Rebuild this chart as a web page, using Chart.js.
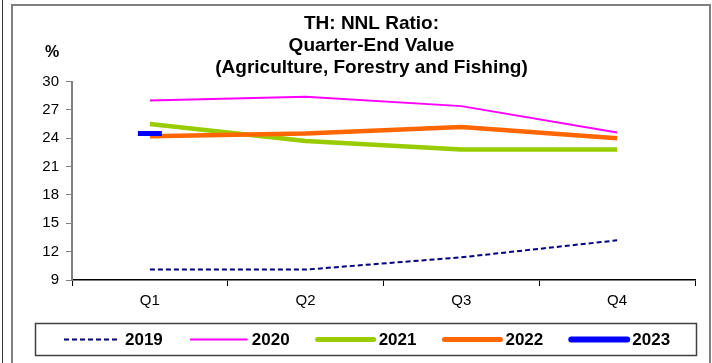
<!DOCTYPE html>
<html>
<head>
<meta charset="utf-8">
<script src="https://cdn.jsdelivr.net/npm/chart.js@4.4.0/dist/chart.umd.min.js"></script>
<style>
  html, body { margin: 0; padding: 0; background: #fff; }
</style>
</head>
<body>
<canvas id="chart" width="712" height="363"></canvas>
<script>
const quarters = ["Q1", "Q2", "Q3", "Q4"];
const values2019 = [10.1, 10.1, 11.4, 13.2];
const values2020 = [28.0, 28.4, 27.4, 24.6];
const values2021 = [25.5, 23.7, 22.8, 22.8];
const values2022 = [24.2, 24.5, 25.2, 24.0];
const values2023 = [24.5, null, null, null];
const yTicks = [9, 12, 15, 18, 21, 24, 27, 30];
const titleLines = ["TH: NNL Ratio:", "Quarter-End Value", "(Agriculture, Forestry and Fishing)"];

Chart.defaults.font.family = "'Liberation Sans', Arial, sans-serif";
Chart.defaults.color = "#000";

// frame, unit label and the boxed legend at the bottom
const decorPlugin = {
    id: "decor",
    beforeDraw(chart) {
        const ctx = chart.ctx;
        ctx.save();
        ctx.fillStyle = "#fff";
        ctx.fillRect(0, 0, chart.width, chart.height);
        ctx.strokeStyle = "#333";
        ctx.lineWidth = 1;
        ctx.beginPath();
        ctx.moveTo(2.5, 0);
        ctx.lineTo(2.5, chart.height);
        ctx.stroke();
        ctx.strokeStyle = "#808080";
        ctx.lineWidth = 2;
        ctx.strokeRect(12, 5, 698, chart.height + 10);
        ctx.restore();
    },
    afterDraw(chart) {
        const ctx = chart.ctx;
        ctx.save();
        ctx.fillStyle = "#000";
        ctx.font = "bold 16px 'Liberation Sans', Arial, sans-serif";
        ctx.textAlign = "center";
        ctx.textBaseline = "middle";
        ctx.fillText("%", 52, 53);

        // legend box
        ctx.strokeStyle = "#404040";
        ctx.lineWidth = 1.5;
        ctx.strokeRect(35.5, 323.5, 661, 32);

        // legend items
        const y = 339.5;
        let x = 64;
        ctx.textAlign = "left";
        ctx.font = "bold 17px 'Liberation Sans', Arial, sans-serif";
        chart.data.datasets.forEach((ds) => {
            ctx.beginPath();
            ctx.strokeStyle = ds.borderColor;
            ctx.lineWidth = ds.legendWidth;
            ctx.lineCap = ds.borderDash ? "butt" : "round";
            ctx.setLineDash(ds.borderDash || []);
            ctx.moveTo(x, y);
            ctx.lineTo(x + 56, y);
            ctx.stroke();
            ctx.setLineDash([]);
            ctx.fillStyle = "#000";
            ctx.fillText(ds.label, x + 61, y + 1);
            x += 61 + ctx.measureText(ds.label).width + 28;
        });
        ctx.restore();
    }
};

new Chart(document.getElementById("chart"), {
    type: "line",
    data: {
        labels: quarters,
        datasets: [
            { label: "2019", data: values2019, borderColor: "#000080", borderWidth: 2, borderDash: [5, 3], legendWidth: 2, pointRadius: 0, order: 5 },
            { label: "2020", data: values2020, borderColor: "#FF00FF", borderWidth: 2, legendWidth: 2, pointRadius: 0, order: 4 },
            { label: "2021", data: values2021, borderColor: "#99CC00", borderWidth: 4.5, legendWidth: 5, pointRadius: 0, order: 3 },
            { label: "2022", data: values2022, borderColor: "#FF6600", borderWidth: 4.5, legendWidth: 5, pointRadius: 0, order: 2 },
            { label: "2023", data: values2023, borderColor: "#0000FF", borderWidth: 5, legendWidth: 6, showLine: false,
              pointStyle: "line", pointRadius: 12, pointBorderWidth: 5, pointBorderColor: "#0000FF", order: 1 },
        ],
    },
    options: {
        responsive: false,
        animation: false,
        layout: { padding: { left: 42, right: 11, top: 0, bottom: 47 } },
        plugins: {
            legend: { display: false },
            tooltip: { enabled: false },
            title: {
                display: true,
                text: titleLines,
                font: { size: 19, weight: "bold", lineHeight: 1.15 },
                padding: { top: 13, bottom: 3 },
                color: "#000",
            },
        },
        scales: {
            x: {
                offset: true,
                grid: { offset: true, drawOnChartArea: false, drawTicks: true, tickLength: 6, color: "#000" },
                border: { color: "#000", width: 1.5 },
                ticks: { font: { size: 15 }, padding: 6, color: "#000" },
            },
            y: {
                min: yTicks[0],
                max: yTicks[yTicks.length - 1],
                afterBuildTicks: (scale) => { scale.ticks = yTicks.map((v) => ({ value: v })); },
                afterFit: (scale) => { scale.width = 30; },
                grid: { drawOnChartArea: false, drawTicks: true, tickLength: 6, color: "#808080" },
                border: { color: "#808080", width: 2 },
                ticks: { font: { size: 15 }, padding: 7, color: "#000" },
            },
        },
    },
    plugins: [decorPlugin],
});
</script>
</body>
</html>
